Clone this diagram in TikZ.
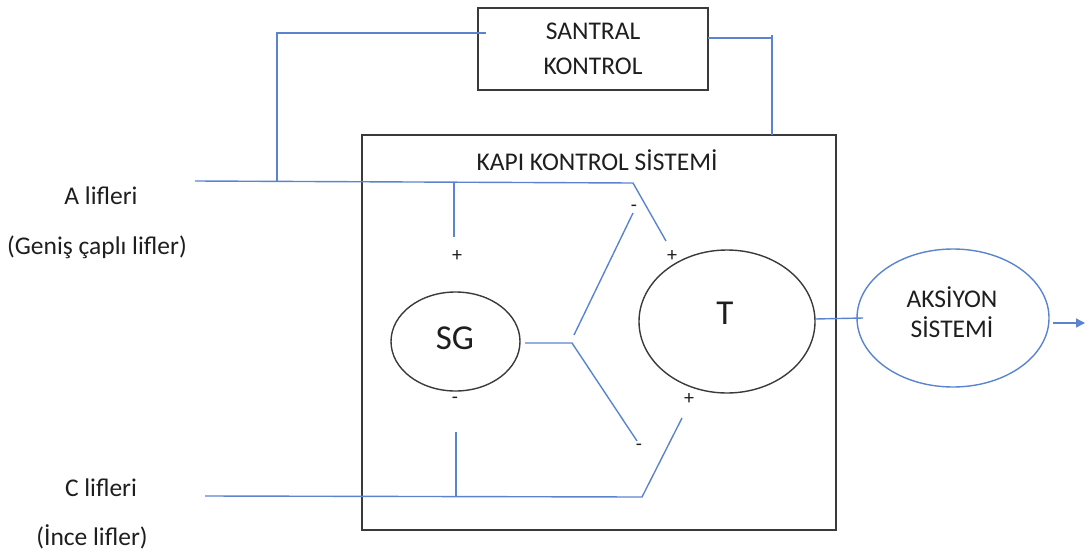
\documentclass[tikz,border=0pt]{standalone}
\usepackage{fontspec}
\setmainfont{Carlito}
\usetikzlibrary{shapes.geometric,arrows.meta}
\definecolor{fiber}{HTML}{5B84D0}
\definecolor{frame}{HTML}{3A3A3A}
\definecolor{ink}{HTML}{1E1E1E}
\tikzset{
  wire/.style={draw=fiber, line width=1.4pt},
  boxframe/.style={draw=frame, line width=1.6pt, rectangle, inner sep=0pt},
  cell/.style={draw=frame, line width=1.4pt, ellipse, inner sep=0pt},
  txt/.style={font=\fontsize{25.5}{35}\selectfont, text=ink, align=center, inner sep=0pt},
  bigtxt/.style={font=\fontsize{35}{40}\selectfont, text=ink, inner sep=0pt},
  sign/.style={font=\fontsize{20}{22}\selectfont, text=ink, inner sep=0pt},
}
\begin{document}
\begin{tikzpicture}[x=1pt,y=-1pt]
\useasboundingbox (0,0) rectangle (1086,554);

% blocks
\node[boxframe, minimum width=230pt, minimum height=82pt] (central) at (593,49) {};
\node[txt] (centraltxt) at (593,49) {SANTRAL\\KONTROL};
\node[boxframe, minimum width=474pt, minimum height=395pt] (gate) at (599,332.5) {};
\node[txt] (gatetxt) at (597,160) {KAPI KONTROL SİSTEMİ};
\node[cell, minimum width=129pt, minimum height=99pt] (sg) at (455.5,341.5) {};
\node[bigtxt] (sgtxt) at (455,338) {SG};
\node[cell, minimum width=176pt, minimum height=143pt] (t) at (727,321.5) {};
\node[bigtxt] (ttxt) at (725,313) {T};
\node[ellipse, draw=fiber, line width=1.4pt, inner sep=0pt, minimum width=192pt, minimum height=138pt] (act) at (953,318) {};
\node[txt, font=\fontsize{25.5}{30}\selectfont] (acttxt) at (952,312) {AKSİYON\\SİSTEMİ};

% input fibre labels
\node[txt] (afib) at (101,196) {A lifleri};
\node[txt] (afib2) at (97,247) {(Geniş çaplı lifler)};
\node[txt] (cfib) at (101,488) {C lifleri};
\node[txt] (cfib2) at (92,537) {(İnce lifler)};

% polarity signs
\node[sign] (s1) at (457,256) {+};
\node[sign] (s2) at (455,400) {-};
\node[sign] (s3) at (634,208) {-};
\node[sign] (s4) at (672,256) {+};
\node[sign] (s5) at (689,399) {+};
\node[sign] (s6) at (639,447) {-};

% wiring points
\coordinate (aStart) at (195,181);
\coordinate (aBend) at (633,183);
\coordinate (aEnd) at (666,241);
\coordinate (aTap) at (277,182);
\coordinate (aSg) at (454,182.5);
\coordinate (aSgEnd) at (454,237);
\coordinate (cenIn) at (486,33);
\coordinate (cenCorner) at (277,33);
\coordinate (cenOut) at (708,38);
\coordinate (cenOutCorner) at (772,38);
\coordinate (cenTop) at (772,35);
\coordinate (gateTop) at (772,135);
\coordinate (cStart) at (205,496);
\coordinate (cBend) at (642,497);
\coordinate (cEnd) at (682,418);
\coordinate (cSg) at (456,496.5);
\coordinate (cSgEnd) at (456,432);
\coordinate (sgOut) at (525,343);
\coordinate (fork) at (572,343);
\coordinate (forkUp) at (574,335);
\coordinate (upEnd) at (633,213);
\coordinate (downEnd) at (637,441);
\coordinate (tOut) at (815,319);
\coordinate (actIn) at (863,318);
\coordinate (actOut) at (1053,323);
\coordinate (finish) at (1085,323);

% A fibres
\draw[wire] (aStart) -- (aBend) -- (aEnd);
\draw[wire] (aSg) -- (aSgEnd);
% central control loop
\draw[wire] (aTap) -- (cenCorner) -- (cenIn);
\draw[wire] (cenOut) -- (cenOutCorner);
\draw[wire] (cenTop) -- (gateTop);
% C fibres
\draw[wire] (cStart) -- (cBend) -- (cEnd);
\draw[wire] (cSg) -- (cSgEnd);
% SG output fork
\draw[wire] (sgOut) -- (fork) -- (downEnd);
\draw[wire] (forkUp) -- (upEnd);
% T output to action system
\draw[wire] (tOut) -- (actIn);
\draw[wire, -{Triangle[length=9pt,width=9pt]}] (actOut) -- (finish);
\end{tikzpicture}
\end{document}
